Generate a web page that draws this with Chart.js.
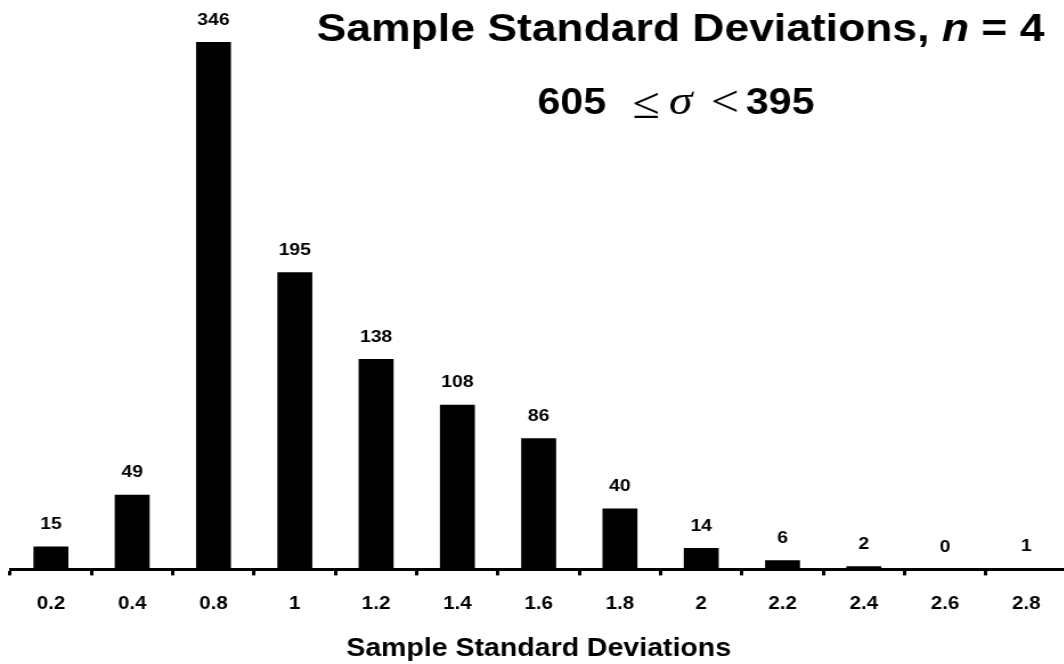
<!DOCTYPE html>
<html>
<head>
<meta charset="utf-8">
<script src="https://cdn.jsdelivr.net/npm/chart.js@4"></script>
<style>
  html, body { margin: 0; padding: 0; background: #fff; overflow: hidden; }
  /* the chart is drawn narrow and widened, which gives the wide lettering */
  #wrap {
    position: absolute; left: 0; top: 0;
    width: 940px; height: 664px;
    transform: scaleX(1.14); transform-origin: 0 0;
  }
</style>
</head>
<body>
<div id="wrap"><canvas id="myChart"></canvas></div>
<script>
const categories = ['0.2', '0.4', '0.8', '1', '1.2', '1.4', '1.6', '1.8', '2', '2.2', '2.4', '2.6', '2.8']
const counts = [15, 49, 346, 195, 138, 108, 86, 40, 14, 6, 2, 0, 1]

const chartTitle = 'Sample Standard Deviations, '
const axisTitle = 'Sample Standard Deviations'
const sigmaLow = '605'
const sigmaHigh = '395'

const FONT = '"Liberation Sans", Arial, sans-serif'
const SERIF = '"Liberation Serif", "DejaVu Serif", serif'

// value labels above each bar
const barLabels = {
    id: 'barLabels',
    afterDatasetsDraw(chart) {
        const ctx = chart.ctx
        const meta = chart.getDatasetMeta(0)
        ctx.save()
        ctx.fillStyle = '#000'
        ctx.font = 'bold 17px ' + FONT
        ctx.textAlign = 'center'
        ctx.textBaseline = 'middle'
        meta.data.forEach((bar, i) => {
            ctx.fillText(String(counts[i]), bar.x, bar.y - 22)
        })
        ctx.restore()
    }
}

// draws a run of differently styled text pieces, starting at x
function drawRun(ctx, pieces, x, y) {
    pieces.forEach(p => {
        ctx.font = p.font
        ctx.fillText(p.text, x, y + (p.dy || 0))
        x += ctx.measureText(p.text).width + (p.gap || 0)
    })
}

function runWidth(ctx, pieces) {
    let w = 0
    pieces.forEach(p => { ctx.font = p.font; w += ctx.measureText(p.text).width + (p.gap || 0) })
    return w
}

const headings = {
    id: 'headings',
    afterDraw(chart) {
        const ctx = chart.ctx
        ctx.save()
        ctx.fillStyle = '#000'
        ctx.textAlign = 'left'
        ctx.textBaseline = 'alphabetic'

        const top = [
            { text: chartTitle, font: 'bold 39px ' + FONT },
            { text: 'n', font: 'italic bold 39px ' + FONT },
            { text: ' = 4', font: 'bold 39px ' + FONT }
        ]
        drawRun(ctx, top, 597 - runWidth(ctx, top) / 2, 41)

        const range = [
            { text: sigmaLow, font: 'bold 36px ' + FONT, gap: 23 },
            { text: '\u2264', font: '44px ' + SERIF, gap: 8, dy: 4 },
            { text: '\u03c3', font: 'italic 42px ' + SERIF, gap: 16 },
            { text: '<', font: '44px ' + SERIF, gap: 6, dy: 2 },
            { text: sigmaHigh, font: 'bold 36px ' + FONT }
        ]
        drawRun(ctx, range, 593 - runWidth(ctx, range) / 2, 114)
        ctx.restore()
    }
}

const config = {
    type: 'bar',
    data: {
        labels: categories,
        datasets: [{
            data: counts,
            backgroundColor: '#000',
            borderWidth: 0,
            categoryPercentage: 1,
            barPercentage: 0.43
        }]
    },
    options: {
        responsive: true,
        maintainAspectRatio: false,
        animation: false,
        layout: {
            padding: { left: 9, right: 4, top: 39, bottom: 0 }
        },
        plugins: {
            legend: { display: false },
            tooltip: { enabled: false }
        },
        scales: {
            y: {
                display: false,
                min: 0,
                max: 348
            },
            x: {
                border: { display: true, color: '#000', width: 3 },
                grid: {
                    offset: true,
                    drawOnChartArea: false,
                    drawTicks: true,
                    tickLength: 6,
                    tickWidth: 3,
                    tickColor: '#000'
                },
                ticks: {
                    color: '#000',
                    padding: 18,
                    maxRotation: 0,
                    autoSkip: false,
                    font: { family: FONT, size: 18, weight: 'bold' }
                },
                title: {
                    display: true,
                    text: axisTitle,
                    color: '#000',
                    padding: { top: 1, bottom: 0 },
                    font: { family: FONT, size: 25, weight: 'bold' }
                }
            }
        }
    },
    plugins: [barLabels, headings]
}

const chart = new Chart(document.getElementById('myChart'), config)
</script>
</body>
</html>
